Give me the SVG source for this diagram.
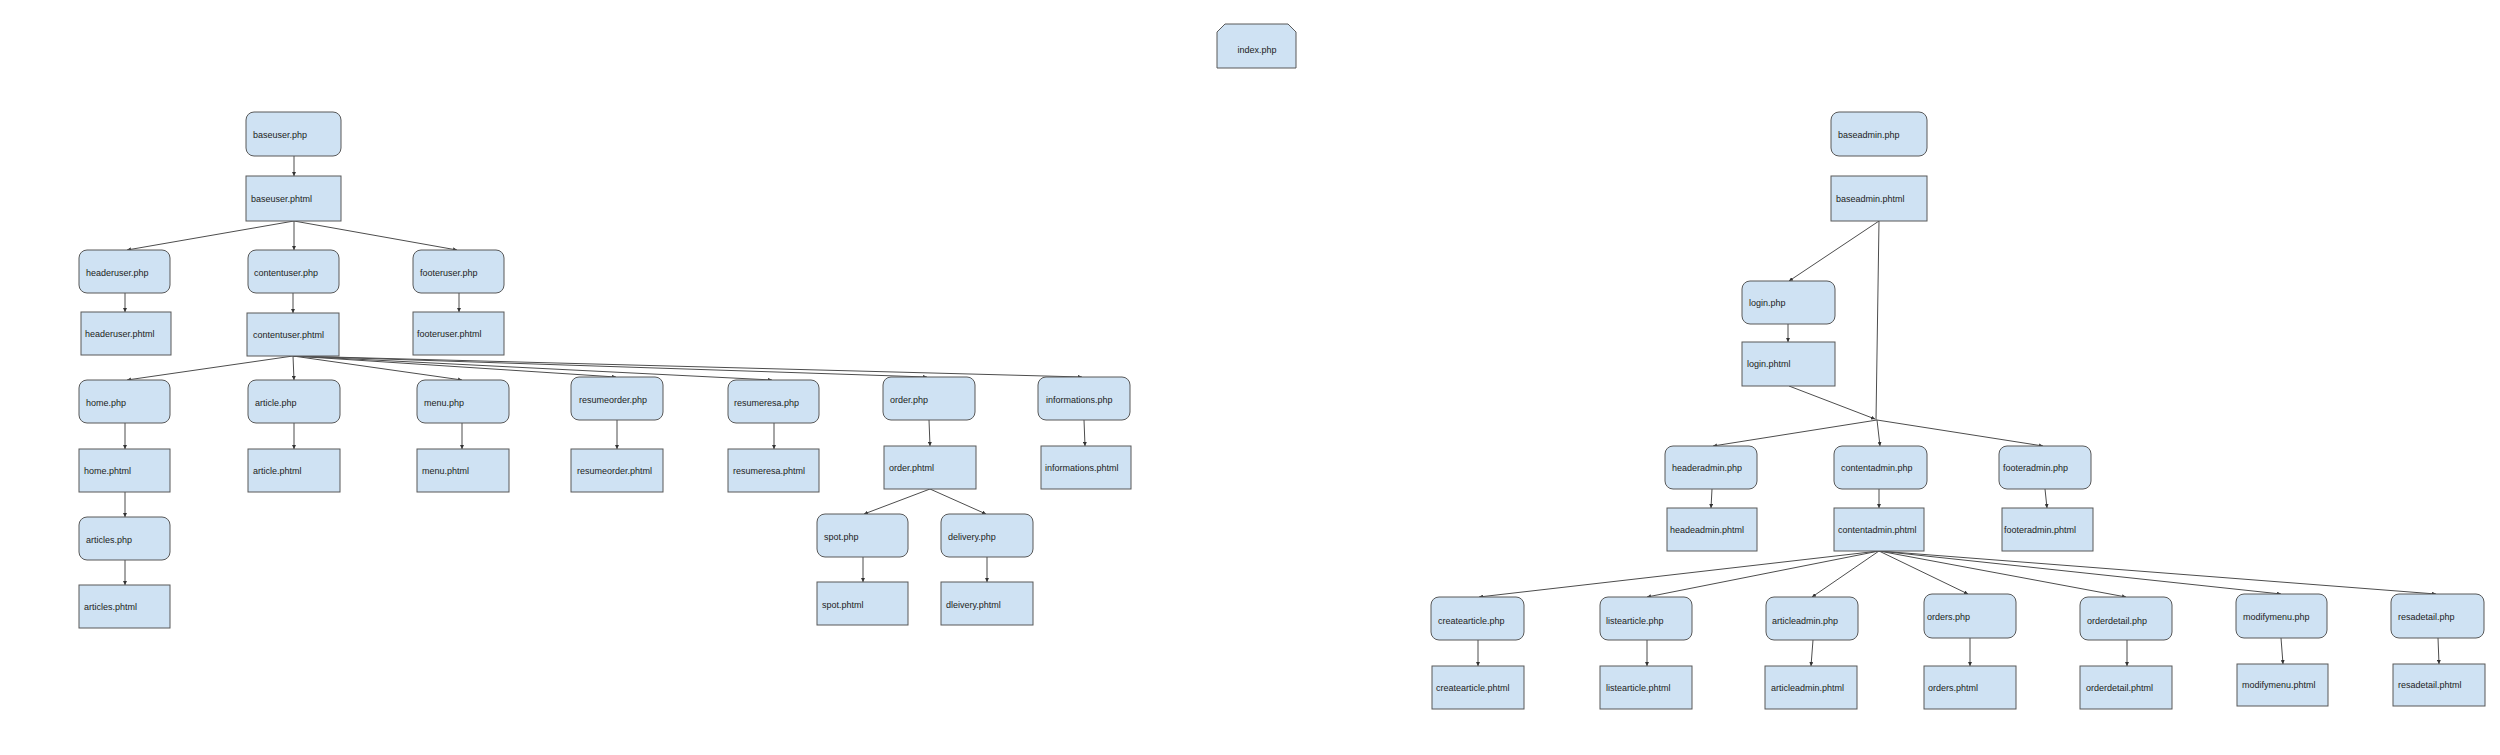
<svg xmlns="http://www.w3.org/2000/svg" width="2500" height="755" viewBox="0 0 2500 755">
<style>
.n{fill:#cfe2f3;stroke:#595959;stroke-width:1}
.t{font-family:"Liberation Sans",Arial,sans-serif;font-size:9px;fill:#222}
.c line{stroke:#4d4d4d;stroke-width:1;fill:none}
.a{marker-end:url(#ah)}
</style>
<defs>
<marker id="ah" viewBox="0 0 6 6" refX="6" refY="3" markerWidth="4" markerHeight="4" markerUnits="userSpaceOnUse" orient="auto">
<path d="M0,0 L6,3 L0,6 z" fill="#333"/>
</marker>
</defs>
<rect width="2500" height="755" fill="#ffffff"/>
<g class="c" id="connectors">
<line class="a" x1="294" y1="156" x2="294" y2="176"/>
<line class="a" x1="294" y1="221" x2="127" y2="250"/>
<line class="a" x1="294" y1="221" x2="294" y2="250"/>
<line class="a" x1="294" y1="221" x2="457" y2="250"/>
<line class="a" x1="125" y1="293" x2="125" y2="312"/>
<line class="a" x1="293" y1="293" x2="293" y2="313"/>
<line class="a" x1="459" y1="293" x2="459" y2="312"/>
<line class="a" x1="293" y1="356" x2="127" y2="380"/>
<line class="a" x1="293" y1="356" x2="294" y2="380"/>
<line class="a" x1="293" y1="356" x2="462" y2="380"/>
<line class="a" x1="293" y1="356" x2="616" y2="377"/>
<line class="a" x1="293" y1="356" x2="772" y2="380"/>
<line class="a" x1="293" y1="356" x2="927" y2="377"/>
<line class="a" x1="293" y1="356" x2="1082" y2="377"/>
<line class="a" x1="125" y1="423" x2="125" y2="449"/>
<line class="a" x1="294" y1="423" x2="294" y2="449"/>
<line class="a" x1="462" y1="423" x2="462" y2="449"/>
<line class="a" x1="617" y1="420" x2="617" y2="449"/>
<line class="a" x1="774" y1="423" x2="774" y2="449"/>
<line class="a" x1="929" y1="420" x2="930" y2="446"/>
<line class="a" x1="1084" y1="420" x2="1085" y2="446"/>
<line class="a" x1="125" y1="492" x2="125" y2="517"/>
<line class="a" x1="125" y1="560" x2="125" y2="585"/>
<line class="a" x1="930" y1="489" x2="864" y2="514"/>
<line class="a" x1="930" y1="489" x2="986" y2="514"/>
<line class="a" x1="863" y1="557" x2="863" y2="582"/>
<line class="a" x1="987" y1="557" x2="987" y2="582"/>
<line class="a" x1="1879" y1="221" x2="1789" y2="281"/>
<line x1="1879" y1="221" x2="1876" y2="420"/>
<line class="a" x1="1788" y1="324" x2="1788" y2="342"/>
<line class="a" x1="1789" y1="386" x2="1875" y2="419"/>
<line class="a" x1="1877" y1="420" x2="1713" y2="446"/>
<line class="a" x1="1877" y1="420" x2="1880" y2="446"/>
<line class="a" x1="1877" y1="420" x2="2043" y2="446"/>
<line class="a" x1="1712" y1="489" x2="1711" y2="508"/>
<line class="a" x1="1879" y1="489" x2="1879" y2="508"/>
<line class="a" x1="2045" y1="489" x2="2047" y2="508"/>
<line class="a" x1="1879" y1="551" x2="1479" y2="597"/>
<line class="a" x1="1879" y1="551" x2="1647" y2="597"/>
<line class="a" x1="1879" y1="551" x2="1812" y2="597"/>
<line class="a" x1="1879" y1="551" x2="1968" y2="594"/>
<line class="a" x1="1879" y1="551" x2="2126" y2="597"/>
<line class="a" x1="1879" y1="551" x2="2281" y2="594"/>
<line class="a" x1="1879" y1="551" x2="2436" y2="594"/>
<line class="a" x1="1478" y1="640" x2="1478" y2="666"/>
<line class="a" x1="1647" y1="640" x2="1647" y2="666"/>
<line class="a" x1="1813" y1="640" x2="1811" y2="666"/>
<line class="a" x1="1970" y1="638" x2="1970" y2="666"/>
<line class="a" x1="2127" y1="640" x2="2127" y2="666"/>
<line class="a" x1="2281" y1="638" x2="2283" y2="664"/>
<line class="a" x1="2438" y1="638" x2="2439" y2="664"/>
</g>
<g id="index"><polygon class="n" points="1217,32 1225,24 1288,24 1296,32 1296,68 1217,68"/><text class="t" x="1257" y="53" text-anchor="middle">index.php</text></g>
<g id="baseuser_php"><rect class="n" x="246" y="112" width="95" height="44" rx="8"/><text class="t" x="253" y="138">baseuser.php</text></g>
<g id="baseuser_phtml"><rect class="n" x="246" y="176" width="95" height="45"/><text class="t" x="251" y="202">baseuser.phtml</text></g>
<g id="headeruser_php"><rect class="n" x="79" y="250" width="91" height="43" rx="8"/><text class="t" x="86" y="276">headeruser.php</text></g>
<g id="contentuser_php"><rect class="n" x="248" y="250" width="91" height="43" rx="8"/><text class="t" x="254" y="276">contentuser.php</text></g>
<g id="footeruser_php"><rect class="n" x="413" y="250" width="91" height="43" rx="8"/><text class="t" x="420" y="276">footeruser.php</text></g>
<g id="headeruser_phtml"><rect class="n" x="81" y="312" width="90" height="43"/><text class="t" x="85" y="337">headeruser.phtml</text></g>
<g id="contentuser_phtml"><rect class="n" x="247" y="313" width="92" height="43"/><text class="t" x="253" y="338">contentuser.phtml</text></g>
<g id="footeruser_phtml"><rect class="n" x="413" y="312" width="91" height="43"/><text class="t" x="417" y="337">footeruser.phtml</text></g>
<g id="home_php"><rect class="n" x="79" y="380" width="91" height="43" rx="8"/><text class="t" x="86" y="406">home.php</text></g>
<g id="article_php"><rect class="n" x="248" y="380" width="92" height="43" rx="8"/><text class="t" x="255" y="406">article.php</text></g>
<g id="menu_php"><rect class="n" x="417" y="380" width="92" height="43" rx="8"/><text class="t" x="424" y="406">menu.php</text></g>
<g id="resumeorder_php"><rect class="n" x="571" y="377" width="92" height="43" rx="8"/><text class="t" x="579" y="403">resumeorder.php</text></g>
<g id="resumeresa_php"><rect class="n" x="728" y="380" width="91" height="43" rx="8"/><text class="t" x="734" y="406">resumeresa.php</text></g>
<g id="order_php"><rect class="n" x="883" y="377" width="92" height="43" rx="8"/><text class="t" x="890" y="403">order.php</text></g>
<g id="informations_php"><rect class="n" x="1038" y="377" width="92" height="43" rx="8"/><text class="t" x="1046" y="403">informations.php</text></g>
<g id="home_phtml"><rect class="n" x="79" y="449" width="91" height="43"/><text class="t" x="84" y="474">home.phtml</text></g>
<g id="article_phtml"><rect class="n" x="248" y="449" width="92" height="43"/><text class="t" x="253" y="474">article.phtml</text></g>
<g id="menu_phtml"><rect class="n" x="417" y="449" width="92" height="43"/><text class="t" x="422" y="474">menu.phtml</text></g>
<g id="resumeorder_phtml"><rect class="n" x="571" y="449" width="92" height="43"/><text class="t" x="577" y="474">resumeorder.phtml</text></g>
<g id="resumeresa_phtml"><rect class="n" x="728" y="449" width="91" height="43"/><text class="t" x="733" y="474">resumeresa.phtml</text></g>
<g id="order_phtml"><rect class="n" x="884" y="446" width="92" height="43"/><text class="t" x="889" y="471">order.phtml</text></g>
<g id="informations_phtml"><rect class="n" x="1041" y="446" width="90" height="43"/><text class="t" x="1045" y="471">informations.phtml</text></g>
<g id="articles_php"><rect class="n" x="79" y="517" width="91" height="43" rx="8"/><text class="t" x="86" y="543">articles.php</text></g>
<g id="articles_phtml"><rect class="n" x="79" y="585" width="91" height="43"/><text class="t" x="84" y="610">articles.phtml</text></g>
<g id="spot_php"><rect class="n" x="817" y="514" width="91" height="43" rx="8"/><text class="t" x="824" y="540">spot.php</text></g>
<g id="delivery_php"><rect class="n" x="941" y="514" width="92" height="43" rx="8"/><text class="t" x="948" y="540">delivery.php</text></g>
<g id="spot_phtml"><rect class="n" x="817" y="582" width="91" height="43"/><text class="t" x="822" y="608">spot.phtml</text></g>
<g id="dleivery_phtml"><rect class="n" x="941" y="582" width="92" height="43"/><text class="t" x="946" y="608">dleivery.phtml</text></g>
<g id="baseadmin_php"><rect class="n" x="1831" y="112" width="96" height="44" rx="8"/><text class="t" x="1838" y="138">baseadmin.php</text></g>
<g id="baseadmin_phtml"><rect class="n" x="1831" y="176" width="96" height="45"/><text class="t" x="1836" y="202">baseadmin.phtml</text></g>
<g id="login_php"><rect class="n" x="1742" y="281" width="93" height="43" rx="8"/><text class="t" x="1749" y="306">login.php</text></g>
<g id="login_phtml"><rect class="n" x="1742" y="342" width="93" height="44"/><text class="t" x="1747" y="367">login.phtml</text></g>
<g id="headeradmin_php"><rect class="n" x="1665" y="446" width="92" height="43" rx="8"/><text class="t" x="1672" y="471">headeradmin.php</text></g>
<g id="contentadmin_php"><rect class="n" x="1834" y="446" width="93" height="43" rx="8"/><text class="t" x="1841" y="471">contentadmin.php</text></g>
<g id="footeradmin_php"><rect class="n" x="1999" y="446" width="92" height="43" rx="8"/><text class="t" x="2003" y="471">footeradmin.php</text></g>
<g id="headeadmin_phtml"><rect class="n" x="1667" y="508" width="90" height="43"/><text class="t" x="1670" y="533">headeadmin.phtml</text></g>
<g id="contentadmin_phtml"><rect class="n" x="1834" y="508" width="90" height="43"/><text class="t" x="1838" y="533">contentadmin.phtml</text></g>
<g id="footeradmin_phtml"><rect class="n" x="2002" y="508" width="91" height="43"/><text class="t" x="2004" y="533">footeradmin.phtml</text></g>
<g id="createarticle_php"><rect class="n" x="1431" y="597" width="93" height="43" rx="8"/><text class="t" x="1438" y="624">createarticle.php</text></g>
<g id="listearticle_php"><rect class="n" x="1600" y="597" width="92" height="43" rx="8"/><text class="t" x="1606" y="624">listearticle.php</text></g>
<g id="articleadmin_php"><rect class="n" x="1766" y="597" width="92" height="43" rx="8"/><text class="t" x="1772" y="624">articleadmin.php</text></g>
<g id="orders_php"><rect class="n" x="1924" y="594" width="92" height="44" rx="8"/><text class="t" x="1927" y="620">orders.php</text></g>
<g id="orderdetail_php"><rect class="n" x="2080" y="597" width="92" height="43" rx="8"/><text class="t" x="2087" y="624">orderdetail.php</text></g>
<g id="modifymenu_php"><rect class="n" x="2236" y="594" width="91" height="44" rx="8"/><text class="t" x="2243" y="620">modifymenu.php</text></g>
<g id="resadetail_php"><rect class="n" x="2391" y="594" width="93" height="44" rx="8"/><text class="t" x="2398" y="620">resadetail.php</text></g>
<g id="createarticle_phtml"><rect class="n" x="1432" y="666" width="92" height="43"/><text class="t" x="1436" y="691">createarticle.phtml</text></g>
<g id="listearticle_phtml"><rect class="n" x="1600" y="666" width="92" height="43"/><text class="t" x="1606" y="691">listearticle.phtml</text></g>
<g id="articleadmin_phtml"><rect class="n" x="1765" y="666" width="92" height="43"/><text class="t" x="1771" y="691">articleadmin.phtml</text></g>
<g id="orders_phtml"><rect class="n" x="1924" y="666" width="92" height="43"/><text class="t" x="1928" y="691">orders.phtml</text></g>
<g id="orderdetail_phtml"><rect class="n" x="2080" y="666" width="92" height="43"/><text class="t" x="2086" y="691">orderdetail.phtml</text></g>
<g id="modifymenu_phtml"><rect class="n" x="2237" y="664" width="91" height="42"/><text class="t" x="2242" y="688">modifymenu.phtml</text></g>
<g id="resadetail_phtml"><rect class="n" x="2393" y="664" width="92" height="42"/><text class="t" x="2398" y="688">resadetail.phtml</text></g>
</svg>
